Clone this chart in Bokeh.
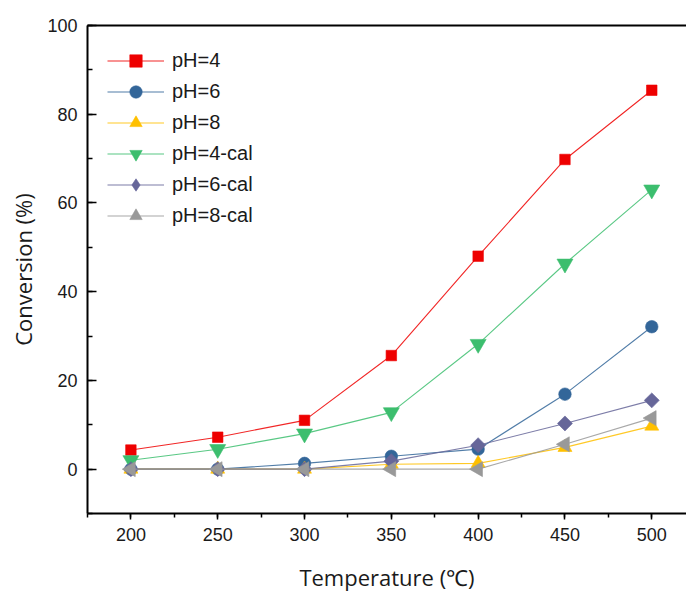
from bokeh.plotting import figure
from bokeh.models import (Range1d, SingleIntervalTicker, FixedTicker, LinearAxis,
                          Legend)
from bokeh.embed import file_html
from bokeh.resources import INLINE
import math

temps = [200, 250, 300, 350, 400, 450, 500]
ph4 = [4.3, 7.2, 11.0, 25.6, 48.0, 69.8, 85.4]
ph6 = [0.0, 0.0, 1.3, 2.9, 4.5, 16.9, 32.1]
ph8 = [0.0, 0.0, 0.0, 1.1, 1.3, 4.9, 9.7]
ph4_cal = [2.0, 4.5, 8.0, 12.8, 28.2, 46.3, 63.0]
ph6_cal = [0.0, 0.0, 0.0, 1.8, 5.4, 10.3, 15.5]
ph8_cal = [0.0, 0.0, 0.0, 0.0, 0.0, 5.6, 11.5]

# name, values, colour, plot marker, size, angle, legend marker
series = [
    ("pH=4", ph4, "#EE0000", "square", 10.5, 0.0, None),
    ("pH=6", ph6, "#336699", "circle", 12.5, 0.0, None),
    ("pH=8", ph8, "#FFC000", "triangle", 14, 0.0, None),
    ("pH=4-cal", ph4_cal, "#3CBE6E", "inverted_triangle", 16, 0.0, None),
    ("pH=6-cal", ph6_cal, "#666699", "square", 10.6, math.pi / 4, "diamond"),
    ("pH=8-cal", ph8_cal, "#999999", "triangle", 15, math.pi / 2, None),
]

p = figure(width=686, height=594, output_backend="svg", toolbar_location=None,
           x_range=Range1d(175, 520), y_range=Range1d(-10, 100))
p.min_border_left = 87
p.min_border_right = 0
p.min_border_top = 25
p.min_border_bottom = 79
p.outline_line_color = None
p.grid.visible = False
p.background_fill_color = "white"
p.border_fill_color = "white"

items = []
for name, ys, col, mk, sz, ang, lmk in series:
    r1 = p.line(temps, ys, line_color=col, line_width=1.1, line_alpha=0.85)
    r2 = p.scatter(temps, ys, marker=mk, size=sz, angle=ang, fill_color=col,
                   line_color=col, line_alpha=0.6)
    rs = [r1, r2]
    if lmk is not None:
        r3 = p.scatter(temps, ys, marker=lmk, size=sz, fill_color=col,
                       line_color=col, line_alpha=0.6, visible=False)
        rs = [r1, r3]
    items.append((name, rs))

legend = Legend(items=items, location="top_left")
legend.border_line_color = None
legend.background_fill_alpha = 0
legend.margin = 20
legend.padding = 6
legend.spacing = 0
legend.glyph_width = 57
legend.glyph_height = 31
legend.label_height = 31
legend.label_standoff = 8
legend.label_text_font = "Liberation Sans"
legend.label_text_font_size = "20px"
legend.label_text_color = "#1a1a1a"
p.add_layout(legend, "center")

xa = p.xaxis[0]
xa.ticker = SingleIntervalTicker(interval=50, num_minor_ticks=2)
xa.major_tick_in = 0
xa.major_tick_out = 6
xa.minor_tick_in = 0
xa.minor_tick_out = 4
xa.axis_line_width = 2
xa.major_tick_line_width = 1.5
xa.minor_tick_line_width = 1.5
xa.major_label_text_font = "Liberation Sans"
xa.major_label_text_font_size = "18px"
xa.major_label_text_color = "#1a1a1a"
xa.major_label_standoff = 8
xa.axis_label = "Temperature (\u2103)"
xa.axis_label_text_font = "Open Sans"
xa.axis_label_text_font_size = "22px"
xa.axis_label_text_font_style = "normal"
xa.axis_label_text_color = "#1a1a1a"
xa.axis_label_standoff = 18

ya = p.yaxis[0]
ya.ticker = SingleIntervalTicker(interval=20, num_minor_ticks=2)
ya.major_tick_in = 9
ya.major_tick_out = 0
ya.minor_tick_in = 5
ya.minor_tick_out = 0
ya.axis_line_width = 2
ya.major_tick_line_width = 1.5
ya.minor_tick_line_width = 1.5
ya.major_label_text_font = "Liberation Sans"
ya.major_label_text_font_size = "18px"
ya.major_label_text_color = "#1a1a1a"
ya.major_label_standoff = 10
ya.axis_label = "Conversion (%)"
ya.axis_label_text_font = "Open Sans"
ya.axis_label_text_font_size = "22px"
ya.axis_label_text_font_style = "normal"
ya.axis_label_text_color = "#1a1a1a"
ya.axis_label_standoff = 6

top = LinearAxis(ticker=FixedTicker(ticks=[]), major_tick_in=0,
                 major_tick_out=0, minor_tick_in=0, minor_tick_out=0,
                 axis_line_width=2)
p.add_layout(top, "above")

open("out.html", "w").write(file_html(p, INLINE))
